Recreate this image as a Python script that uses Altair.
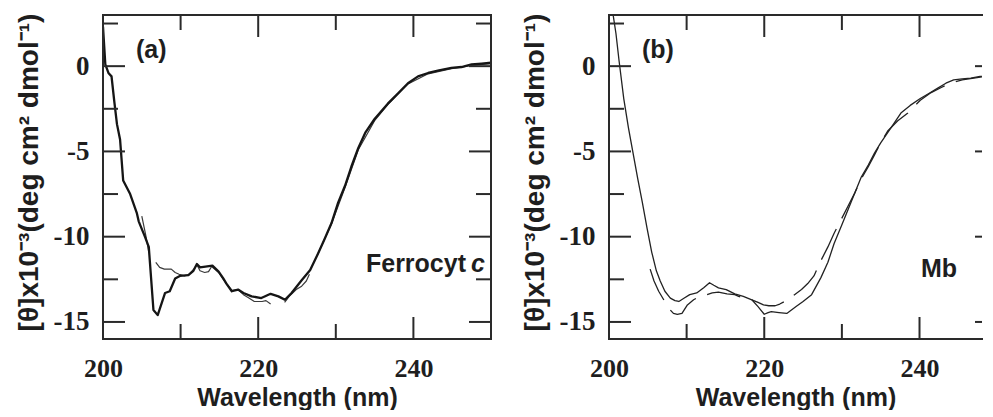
import altair as alt
import pandas as pd

# ---------------- data ----------------
# Panel (a) Ferrocyt c : thick solid trace
a_thick_nm = [200.0, 200.3, 200.7, 201.1, 201.45, 201.8, 202.2, 202.6, 203.5, 204.35,
              204.6, 205.4, 205.9, 206.5, 207.05, 208.0, 208.6, 209.3, 209.9, 211.0,
              211.65, 212.1, 212.5, 213.2, 214.1, 214.9, 215.5, 215.9, 216.6, 217.4,
              218.1, 219.15, 220.4, 221.6, 222.6, 223.45, 224.3, 225.6, 226.7, 227.7,
              228.5, 229.45, 230.3, 231.2, 232.0, 232.9, 233.8, 235.0, 236.7, 238.0,
              239.3, 240.6, 241.9, 243.3, 244.9, 246.2, 247.5, 248.8, 250.0]
a_thick_val = [2.3, 0.1, -0.4, -0.6, -2.05, -3.4, -4.3, -6.7, -7.5, -8.6,
               -9.1, -10.0, -10.6, -14.3, -14.6, -13.3, -13.2, -12.45, -12.3, -12.25,
               -12.0, -11.6, -11.8, -11.75, -11.7, -12.05, -12.45, -12.75, -13.2, -13.1,
               -13.3, -13.5, -13.6, -13.35, -13.5, -13.7, -13.3, -12.55, -11.95, -11.0,
               -10.2, -9.2, -8.0, -7.0, -5.9, -4.8, -3.9, -3.1, -2.2, -1.6,
               -1.0, -0.6, -0.4, -0.25, -0.1, -0.05, 0.1, 0.15, 0.2]

# Panel (a): thin trace, drawn in separate pieces (gaps seen in the picture)
a_thin_nm_1 = [205.0, 205.5, 205.9]
a_thin_val_1 = [-8.8, -9.9, -10.9]
a_thin_nm_2 = [206.8, 207.3, 207.9, 208.8, 209.3, 209.8, 210.5, 211.1, 211.7, 212.1,
               212.5, 213.1, 213.6, 214.0, 214.9, 215.5, 216.0, 216.6, 217.4, 218.1,
               218.8, 219.5, 220.5, 221.0, 221.6]
a_thin_val_2 = [-11.5, -11.8, -11.9, -11.9, -12.1, -12.2, -12.3, -12.2, -11.9, -11.65,
                -12.0, -12.1, -12.05, -11.75, -12.1, -12.5, -12.8, -13.15, -13.1, -13.4,
                -13.6, -13.8, -13.8, -13.75, -13.95]
a_thin_nm_3 = [223.4, 224.0, 224.9, 225.6, 226.2, 226.6]
a_thin_val_3 = [-13.85, -13.5, -13.1, -12.9, -12.6, -12.2]
a_thin_nm_4 = [227.6, 229.4, 231.2, 232.9, 235.0, 236.7, 239.3, 241.9, 244.9, 247.5, 250.0]
a_thin_val_4 = [-11.1, -9.3, -7.1, -4.9, -3.2, -2.25, -1.05, -0.45, -0.15, 0.05, 0.15]

# Panel (b) Mb : solid trace
b_solid_nm = [200.4, 200.9, 201.3, 201.9, 202.5, 203.1, 203.7, 204.3, 204.9, 205.5,
              206.1, 206.6, 207.2, 207.9, 208.5, 209.0, 209.7, 210.4, 211.3, 212.2,
              212.95, 213.5, 214.1, 215.1, 216.2, 217.3, 218.4, 219.2, 220.0, 220.5,
              220.9, 221.9, 222.9, 223.5, 224.1, 225.0, 226.1, 227.3, 228.2, 229.0,
              230.0, 230.8, 231.7, 232.5, 233.4, 234.2, 235.0, 235.9, 236.8, 237.6,
              238.8, 240.1, 241.2, 242.3, 243.4, 244.4, 245.5, 246.6, 247.8, 249.1]
b_solid_val = [3.4, 1.9, 0.3, -1.9, -3.6, -5.1, -6.6, -8.0, -9.5, -10.9,
               -12.0, -12.6, -13.2, -13.6, -13.75, -13.8, -13.6, -13.4, -13.3, -13.0,
               -12.7, -12.85, -13.0, -13.1, -13.35, -13.5, -13.7, -14.1, -14.55, -14.45,
               -14.4, -14.45, -14.5, -14.3, -14.1, -13.8, -13.4, -12.4, -11.5, -10.4,
               -9.3, -8.4, -7.4, -6.5, -5.8, -5.1, -4.5, -3.9, -3.3, -2.75,
               -2.3, -1.9, -1.6, -1.3, -1.0, -0.8, -0.75, -0.7, -0.6, -0.5]

# Panel (b): long-dashed trace
b_dash_nm = [205.3, 205.8, 206.4, 207.05, 207.7, 208.3, 208.8, 209.4, 210.1, 210.9,
             211.7, 212.6, 213.3, 214.1, 215.2, 216.2, 216.7, 217.5, 218.4, 219.2,
             219.9, 220.6, 221.4, 222.0, 222.6, 223.3, 223.9, 224.8, 225.6, 226.4,
             227.3, 228.2, 229.0, 229.9, 230.8, 231.7, 232.5, 233.4, 234.2, 235.0,
             235.9, 237.2, 238.5, 240.1, 241.5, 242.8, 244.0, 245.5, 247.0, 249.1]
b_dash_val = [-11.9, -12.6, -13.2, -13.7, -14.2, -14.5, -14.55, -14.5, -14.0, -13.7,
              -13.5, -13.4, -13.3, -13.25, -13.35, -13.4, -13.5, -13.6, -13.7, -13.85,
              -14.0, -14.05, -14.05, -13.95, -13.8, -13.6, -13.4, -13.1, -12.75, -12.3,
              -11.4, -10.6, -9.8, -9.0, -8.2, -7.4, -6.6, -5.9, -5.2, -4.5,
              -3.8, -3.2, -2.75, -2.0, -1.55, -1.25, -1.0, -0.8, -0.7, -0.55]

# axis ticks / labels
x_label_values = [200, 220, 240]
x_major_ticks = [220, 240]
x_minor_ticks = [210, 230]
y_label_values = [0, -5, -10, -15]
y_major_ticks = [0, -5, -10, -15]
y_minor_ticks = [2.5, -2.5, -7.5, -12.5]

panel_tags = ["(a)", "(b)"]
sample_a = ["Ferrocyt", "c"]
sample_b = ["Mb"]
x_title = "Wavelength (nm)"
y_title = "[θ]x10⁻³(deg cm² dmol⁻¹)"

# ---------------- styling ----------------
INK = "#1e1e1e"
FRAME = "#2a2a2a"
SERIF = "'Liberation Serif', 'Times New Roman', Times, serif"
SANS = "'Liberation Sans', Arial, Helvetica, sans-serif"
H = 324
WA = 388
WB = 373          # panel (b) is cut by the picture's right edge
MAJ = 22
MIN = 15

yscale = alt.Scale(domain=[-16, 3], nice=False, zero=False)
xscale_a = alt.Scale(domain=[200, 250], nice=False, zero=False)
xscale_b = alt.Scale(domain=[200, 248.05], nice=False, zero=False)

xaxis = alt.Axis(values=x_label_values, ticks=False, tickSize=0, domain=False, grid=False,
                 labelPadding=16, labelFlush=False, labelFont=SERIF,
                 labelFontWeight="bold", labelFontSize=26, labelColor=INK,
                 labelExpr="toString(datum.value)",
                 title=x_title, titleFont=SANS, titleFontWeight="bold",
                 titleFontSize=25, titleColor=INK, titlePadding=4)
yaxis = alt.Axis(values=y_label_values, ticks=False, tickSize=0, domain=False, grid=False,
                 labelPadding=14, labelFont=SERIF, labelFontWeight="bold",
                 labelFontSize=27, labelColor=INK, labelBaseline="middle",
                 labelExpr="toString(datum.value)",
                 title=y_title, titleFont=SANS, titleFontWeight="bold",
                 titleFontSize=28, titleColor=INK, titlePadding=10, titleY=157)


def line_df(pieces):
    rows = []
    for k, (xs, ys) in enumerate(pieces):
        for x, y in zip(xs, ys):
            rows.append({"nm": x, "val": y, "seg": k})
    return pd.DataFrame(rows)


def line_layer(pieces, xs, width, color, dash=None):
    kw = dict(clip=True, color=color, strokeWidth=width, strokeJoin="round")
    if dash is not None:
        kw["strokeDash"] = dash
    return alt.Chart(line_df(pieces)).mark_line(**kw).encode(
        x=alt.X("nm:Q", scale=xs, axis=xaxis),
        y=alt.Y("val:Q", scale=yscale, axis=yaxis),
        detail="seg:N",
        order="nm:Q",
    )


def yticks(vals, x0, x1):
    return alt.Chart(pd.DataFrame({"val": vals})).mark_rule(color=FRAME, strokeWidth=2).encode(
        y=alt.Y("val:Q", scale=yscale, axis=yaxis), x=alt.value(x0), x2=alt.value(x1))


def xticks(vals, xs, y0, y1):
    return alt.Chart(pd.DataFrame({"nm": vals})).mark_rule(color=FRAME, strokeWidth=2).encode(
        x=alt.X("nm:Q", scale=xs, axis=xaxis), y=alt.value(y0), y2=alt.value(y1))


def border(x0, x1, y0, y1):
    return alt.Chart(pd.DataFrame({"b": [0]})).mark_rule(
        color=FRAME, strokeWidth=2, strokeCap="square").encode(
        x=alt.value(x0), x2=alt.value(x1), y=alt.value(y0), y2=alt.value(y1))


def text(t, x, y, align="left", baseline="alphabetic", style="normal"):
    return alt.Chart(pd.DataFrame({"t": [t]})).mark_text(
        font=SANS, fontWeight="bold", fontSize=25, fontStyle=style,
        align=align, baseline=baseline, color=INK).encode(
        text="t:N", x=alt.value(x), y=alt.value(y))


def frame_layers(xs, W, right_full=True):
    layers = [
        yticks(y_major_ticks, 0, MAJ), yticks(y_minor_ticks, 0, MIN),
        xticks(x_major_ticks, xs, H - MAJ, H), xticks(x_minor_ticks, xs, H - MIN, H),
        xticks(x_major_ticks, xs, 0, MAJ), xticks(x_minor_ticks, xs, 0, MIN),
        border(0, 0, 0, H), border(0, W, 0, 0), border(0, W, H, H),
    ]
    if right_full:
        layers += [yticks(y_major_ticks, W - MAJ, W), yticks(y_minor_ticks, W - MIN, W),
                   border(W, W, 0, H)]
    else:
        layers += [yticks(y_major_ticks, W - 7, W)]
    return layers


panel_a = alt.layer(
    line_layer([(a_thin_nm_1, a_thin_val_1), (a_thin_nm_2, a_thin_val_2),
                (a_thin_nm_3, a_thin_val_3), (a_thin_nm_4, a_thin_val_4)],
               xscale_a, 1.2, "#3a3a3a"),
    line_layer([(a_thick_nm, a_thick_val)], xscale_a, 2.3, "#151515"),
    *frame_layers(xscale_a, WA, True),
    text(panel_tags[0], 33, 35, baseline="middle"),
    text(sample_a[0], 363, 257, align="right"),
    text(sample_a[1], 368, 257, style="italic"),
).properties(width=WA, height=H)

panel_b = alt.layer(
    line_layer([(b_dash_nm, b_dash_val)], xscale_b, 1.3, "#222222", dash=[34, 12]),
    line_layer([(b_solid_nm, b_solid_val)], xscale_b, 1.3, "#222222"),
    *frame_layers(xscale_b, WB, False),
    text(panel_tags[1], 33, 35, baseline="middle"),
    text(sample_b[0], 312, 262),
).properties(width=WB, height=H)

chart = alt.hconcat(panel_a, panel_b, spacing=118, bounds="flush").configure_view(
    strokeWidth=0
).properties(
    padding={"left": 7, "top": 5, "right": 0, "bottom": 0}
)

chart.save("out.html", embed_options={"renderer": "svg", "actions": False})
